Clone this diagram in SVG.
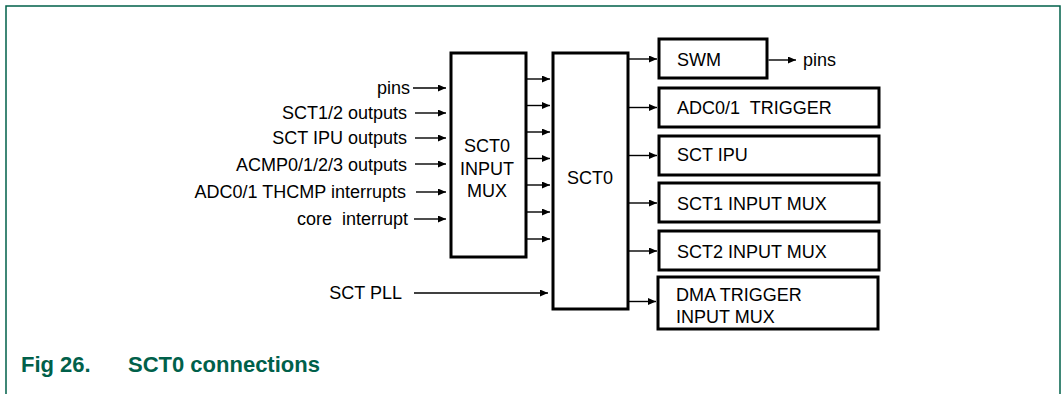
<svg xmlns="http://www.w3.org/2000/svg" width="1061" height="394" viewBox="0 0 1061 394">
<style>
.box{fill:#fff;stroke:#000;stroke-width:3}
.t{font-family:"Liberation Sans",Arial,sans-serif;font-size:18px;fill:#000;white-space:pre}
.e{text-anchor:end}
.m{text-anchor:middle}
.ln{stroke:#000;stroke-width:1.4;fill:none;marker-end:url(#ah)}
.cap{font-family:"Liberation Sans",Arial,sans-serif;font-size:22px;font-weight:bold;fill:#00604A}
</style>
<defs>
<marker id="ah" markerUnits="userSpaceOnUse" markerWidth="9" markerHeight="8" refX="8" refY="3.5" orient="auto">
<path d="M0,0 L8,3.5 L0,7 z" fill="#000"/>
</marker>
</defs>
<rect x="0" y="0" width="1061" height="394" fill="#fff"/>
<rect x="6" y="6" width="1054" height="420" fill="none" stroke="#00604A" stroke-width="1.5"/>

<g id="input-labels">
<text class="t e" x="410" y="94">pins</text>
<text class="t e" x="407" y="119">SCT1/2 outputs</text>
<text class="t e" x="407" y="144">SCT IPU outputs</text>
<text class="t e" x="407" y="171">ACMP0/1/2/3 outputs</text>
<text class="t e" x="406" y="198">ADC0/1 THCMP interrupts</text>
<text class="t e" x="408" y="225" xml:space="preserve">core  interrupt</text>
<text class="t e" x="402" y="299">SCT PLL</text>
</g>

<g id="input-mux">
<rect class="box" x="451" y="53" width="75" height="204"/>
<text class="t m" x="487" y="152">SCT0</text>
<text class="t m" x="487" y="175">INPUT</text>
<text class="t m" x="487" y="197">MUX</text>
</g>

<g id="sct0">
<rect class="box" x="553" y="53" width="75" height="256"/>
<text class="t m" x="590" y="184">SCT0</text>
</g>

<g id="swm">
<rect class="box" x="659" y="39" width="108" height="39"/>
<text class="t" x="677" y="66">SWM</text>
</g>
<g id="pins-out">
<text class="t" x="803" y="66">pins</text>
</g>
<g id="adc-trigger">
<rect class="box" x="659" y="88" width="220" height="39"/>
<text class="t" x="677" y="114" xml:space="preserve">ADC0/1  TRIGGER</text>
</g>
<g id="sct-ipu">
<rect class="box" x="659" y="136" width="220" height="39"/>
<text class="t" x="677" y="161">SCT IPU</text>
</g>
<g id="sct1-mux">
<rect class="box" x="659" y="183" width="220" height="39"/>
<text class="t" x="677" y="210">SCT1 INPUT MUX</text>
</g>
<g id="sct2-mux">
<rect class="box" x="659" y="231" width="220" height="39"/>
<text class="t" x="677" y="258">SCT2 INPUT MUX</text>
</g>
<g id="dma-mux">
<rect class="box" x="658" y="277" width="220" height="52"/>
<text class="t" x="676" y="301">DMA TRIGGER</text>
<text class="t" x="676" y="323">INPUT MUX</text>
</g>

<g id="connectors">
<line class="ln" x1="413" y1="88" x2="446" y2="88"/>
<line class="ln" x1="415" y1="113" x2="446" y2="113"/>
<line class="ln" x1="415" y1="138" x2="446" y2="138"/>
<line class="ln" x1="415" y1="164" x2="446" y2="164"/>
<line class="ln" x1="416" y1="192" x2="446" y2="192"/>
<line class="ln" x1="414" y1="219" x2="446" y2="219"/>
<line class="ln" x1="414" y1="293" x2="548" y2="293"/>

<line class="ln" x1="527" y1="79" x2="550" y2="79"/>
<line class="ln" x1="527" y1="105.5" x2="550" y2="105.5"/>
<line class="ln" x1="527" y1="132" x2="550" y2="132"/>
<line class="ln" x1="527" y1="158.5" x2="550" y2="158.5"/>
<line class="ln" x1="527" y1="185" x2="550" y2="185"/>
<line class="ln" x1="527" y1="212" x2="550" y2="212"/>
<line class="ln" x1="527" y1="239" x2="550" y2="239"/>

<line class="ln" x1="629" y1="59" x2="657" y2="59"/>
<line class="ln" x1="629" y1="107.5" x2="657" y2="107.5"/>
<line class="ln" x1="629" y1="155.5" x2="657" y2="155.5"/>
<line class="ln" x1="629" y1="203" x2="657" y2="203"/>
<line class="ln" x1="629" y1="251" x2="657" y2="251"/>
<line class="ln" x1="629" y1="301.5" x2="656" y2="301.5"/>

<line class="ln" x1="768.5" y1="60" x2="796" y2="60"/>
</g>

<text class="cap" x="21" y="372">Fig 26.<tspan x="128">SCT0 connections</tspan></text>
</svg>
